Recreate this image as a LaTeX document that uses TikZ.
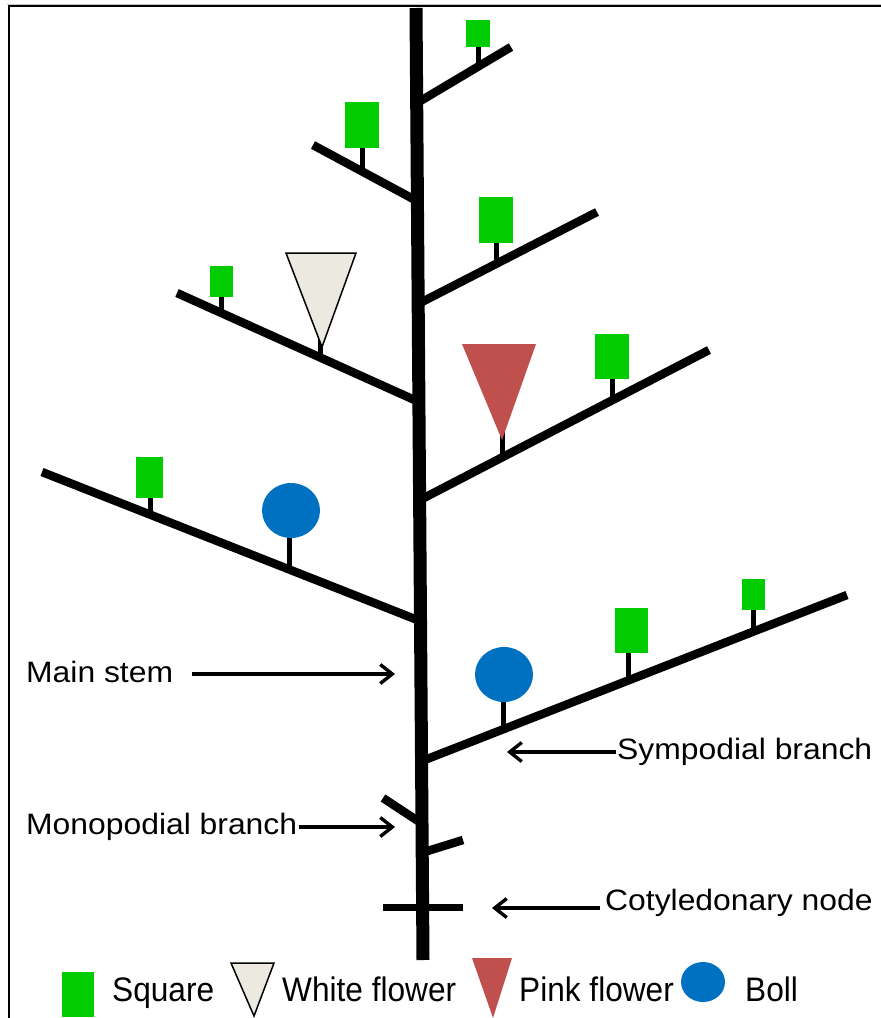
\documentclass[tikz,border=0pt]{standalone}
\usepackage{fontspec}
\setmainfont{Liberation Sans}
\usepackage{graphicx}
\usetikzlibrary{arrows.meta,calc,shapes.geometric}

\definecolor{sqgreen}{HTML}{00CC00}
\definecolor{whitefl}{HTML}{ECEAE0}
\definecolor{pinkfl}{HTML}{C0504D}
\definecolor{bollblue}{HTML}{0070C0}

\newcommand\labelfont{\fontsize{29.5}{32}\selectfont}
\newcommand\legendfont{\fontsize{34}{36}\selectfont}
\newcommand\wlab[1]{\scalebox{1.08}[1]{#1}}
\newcommand\nlab[1]{\scalebox{0.93}[1]{#1}}

\begin{document}
\begin{tikzpicture}[x=1pt,y=-1pt,
  stemline/.style={line width=13pt},
  branch/.style={line width=8.5pt},
  stalk/.style={line width=5pt},
  bud/.style={fill=sqgreen, draw=none, inner sep=0pt, rectangle},
  boll/.style={fill=bollblue, draw=none, inner sep=0pt, ellipse},
  whiteflower/.style={fill=whitefl, draw=black, line width=1.5pt, line join=miter},
  pinkflower/.style={fill=pinkfl, draw=none},
  lbl/.style={font=\labelfont, inner sep=0pt, anchor=base west},
  lgd/.style={font=\legendfont, inner sep=0pt, anchor=base west},
  arr/.style={line width=3.4pt, -{Straight Barb[length=12pt,width=19pt]}}
]
\useasboundingbox (0,0) rectangle (881,1018);

% frame
\draw[gray!45, line width=1pt] (7,4) -- (881,4);
\draw[line width=2pt] (9,1018) -- (9,5.5) -- (881,5.5);

% main stem
\coordinate (top) at (416,8);
\coordinate (base) at (423,960);
\draw[stemline] (top) -- (base);

% sympodial branches
\coordinate (b1s) at (417,103); \coordinate (b1e) at (511,47);
\coordinate (b2s) at (417,201); \coordinate (b2e) at (313,145);
\coordinate (b3s) at (418,304); \coordinate (b3e) at (597,212);
\coordinate (b4s) at (419,402); \coordinate (b4e) at (177,293);
\coordinate (b5s) at (420,500); \coordinate (b5e) at (709,350);
\coordinate (b6s) at (420,621); \coordinate (b6e) at (42,472);
\coordinate (b7s) at (422,761); \coordinate (b7e) at (847,595);
\foreach \b in {1,...,7} \draw[branch] (b\b s) -- (b\b e);

% monopodial branch and cotyledonary node
\coordinate (m1s) at (418,821); \coordinate (m1e) at (383,798);
\coordinate (m2s) at (421,853); \coordinate (m2e) at (463,840);
\draw[branch] (m1s) -- (m1e);
\draw[branch] (m2s) -- (m2e);
\coordinate (c1) at (383,907); \coordinate (c2) at (463,907);
\draw[line width=7pt] (c1) -- (c2);

% squares (buds) with stalks
\node[bud, minimum width=24pt, minimum height=27pt] (s1) at (478,33.5) {};
\coordinate (s1b) at (478,66);
\node[bud, minimum width=34pt, minimum height=46pt] (s2) at (362,125) {};
\coordinate (s2b) at (362,170);
\node[bud, minimum width=34pt, minimum height=46pt] (s3) at (496,220) {};
\coordinate (s3b) at (496,263);
\node[bud, minimum width=23pt, minimum height=31pt] (s4) at (221.5,281.5) {};
\coordinate (s4b) at (221,312);
\node[bud, minimum width=34pt, minimum height=45pt] (s5) at (612,356.5) {};
\coordinate (s5b) at (612,400);
\node[bud, minimum width=27pt, minimum height=41pt] (s6) at (149.5,477.5) {};
\coordinate (s6b) at (150,515);
\node[bud, minimum width=33pt, minimum height=45pt] (s7) at (631.5,630.5) {};
\coordinate (s7b) at (628,681);
\node[bud, minimum width=23pt, minimum height=31pt] (s8) at (753.5,594.5) {};
\coordinate (s8b) at (753,631);
\foreach \s in {1,...,8} \draw[stalk] (s\s.south -| s\s b) -- (s\s b);

% white flower
\coordinate (wfa) at (322,347);
\coordinate (wfb) at (320,358);
\draw[stalk] (320,332) -- (wfb);
\draw[whiteflower] (286,253) -- (356,253) -- (wfa) -- cycle;

% pink flower
\coordinate (pfa) at (502,440);
\coordinate (pfb) at (502,457);
\draw[stalk] ($(pfa)+(0,-8)$) -- (pfb);
\fill[pinkflower] (462,344) -- (536,344) -- (pfa) -- cycle;

% bolls
\node[boll, minimum width=58pt, minimum height=55pt] (bo1) at (291,510.5) {};
\coordinate (bo1b) at (289,572);
\draw[stalk] (bo1.south -| bo1b) -- (bo1b);
\node[boll, minimum width=58pt, minimum height=55pt] (bo2) at (504,674.5) {};
\coordinate (bo2b) at (503,731);
\draw[stalk] (bo2.south -| bo2b) -- (bo2b);

% labels and pointers
\node[lbl] (ms) at (26,682) {\wlab{Main stem}};
\coordinate (msTip) at (395,674);
\draw[arr] ($(ms.east |- msTip)+(19,0)$) -- (msTip);

\node[lbl] (mb) at (26,834) {\wlab{Monopodial branch}};
\coordinate (mbTip) at (395,827);
\draw[arr] ($(mb.east |- mbTip)+(2,0)$) -- (mbTip);

\node[lbl] (sb) at (617,759) {\wlab{Sympodial branch}};
\coordinate (sbTip) at (507,752);
\draw[arr] ($(sb.west |- sbTip)+(-1,0)$) -- (sbTip);

\node[lbl] (cn) at (605,910) {\wlab{Cotyledonary node}};
\coordinate (cnTip) at (492,908);
\draw[arr] ($(cn.west |- cnTip)+(-5,0)$) -- (cnTip);

% legend
\node[bud, minimum width=32pt, minimum height=45pt] (lsq) at (78,994.5) {};
\node[lgd] (lsqt) at (112,1001) {\nlab{Square}};
\draw[whiteflower] (231,963) -- (274,963) -- (254,1016) -- cycle;
\node[lgd] (lwft) at (282,1001) {\nlab{White flower}};
\fill[pinkflower] (472,958) -- (512,958) -- (493,1018) -- cycle;
\node[lgd] (lpft) at (519,1001) {\nlab{Pink flower}};
\node[boll, minimum width=44pt, minimum height=40pt] (lbo) at (703,982) {};
\node[lgd] (lbot) at (745,1001) {\nlab{Boll}};
\end{tikzpicture}
\end{document}
